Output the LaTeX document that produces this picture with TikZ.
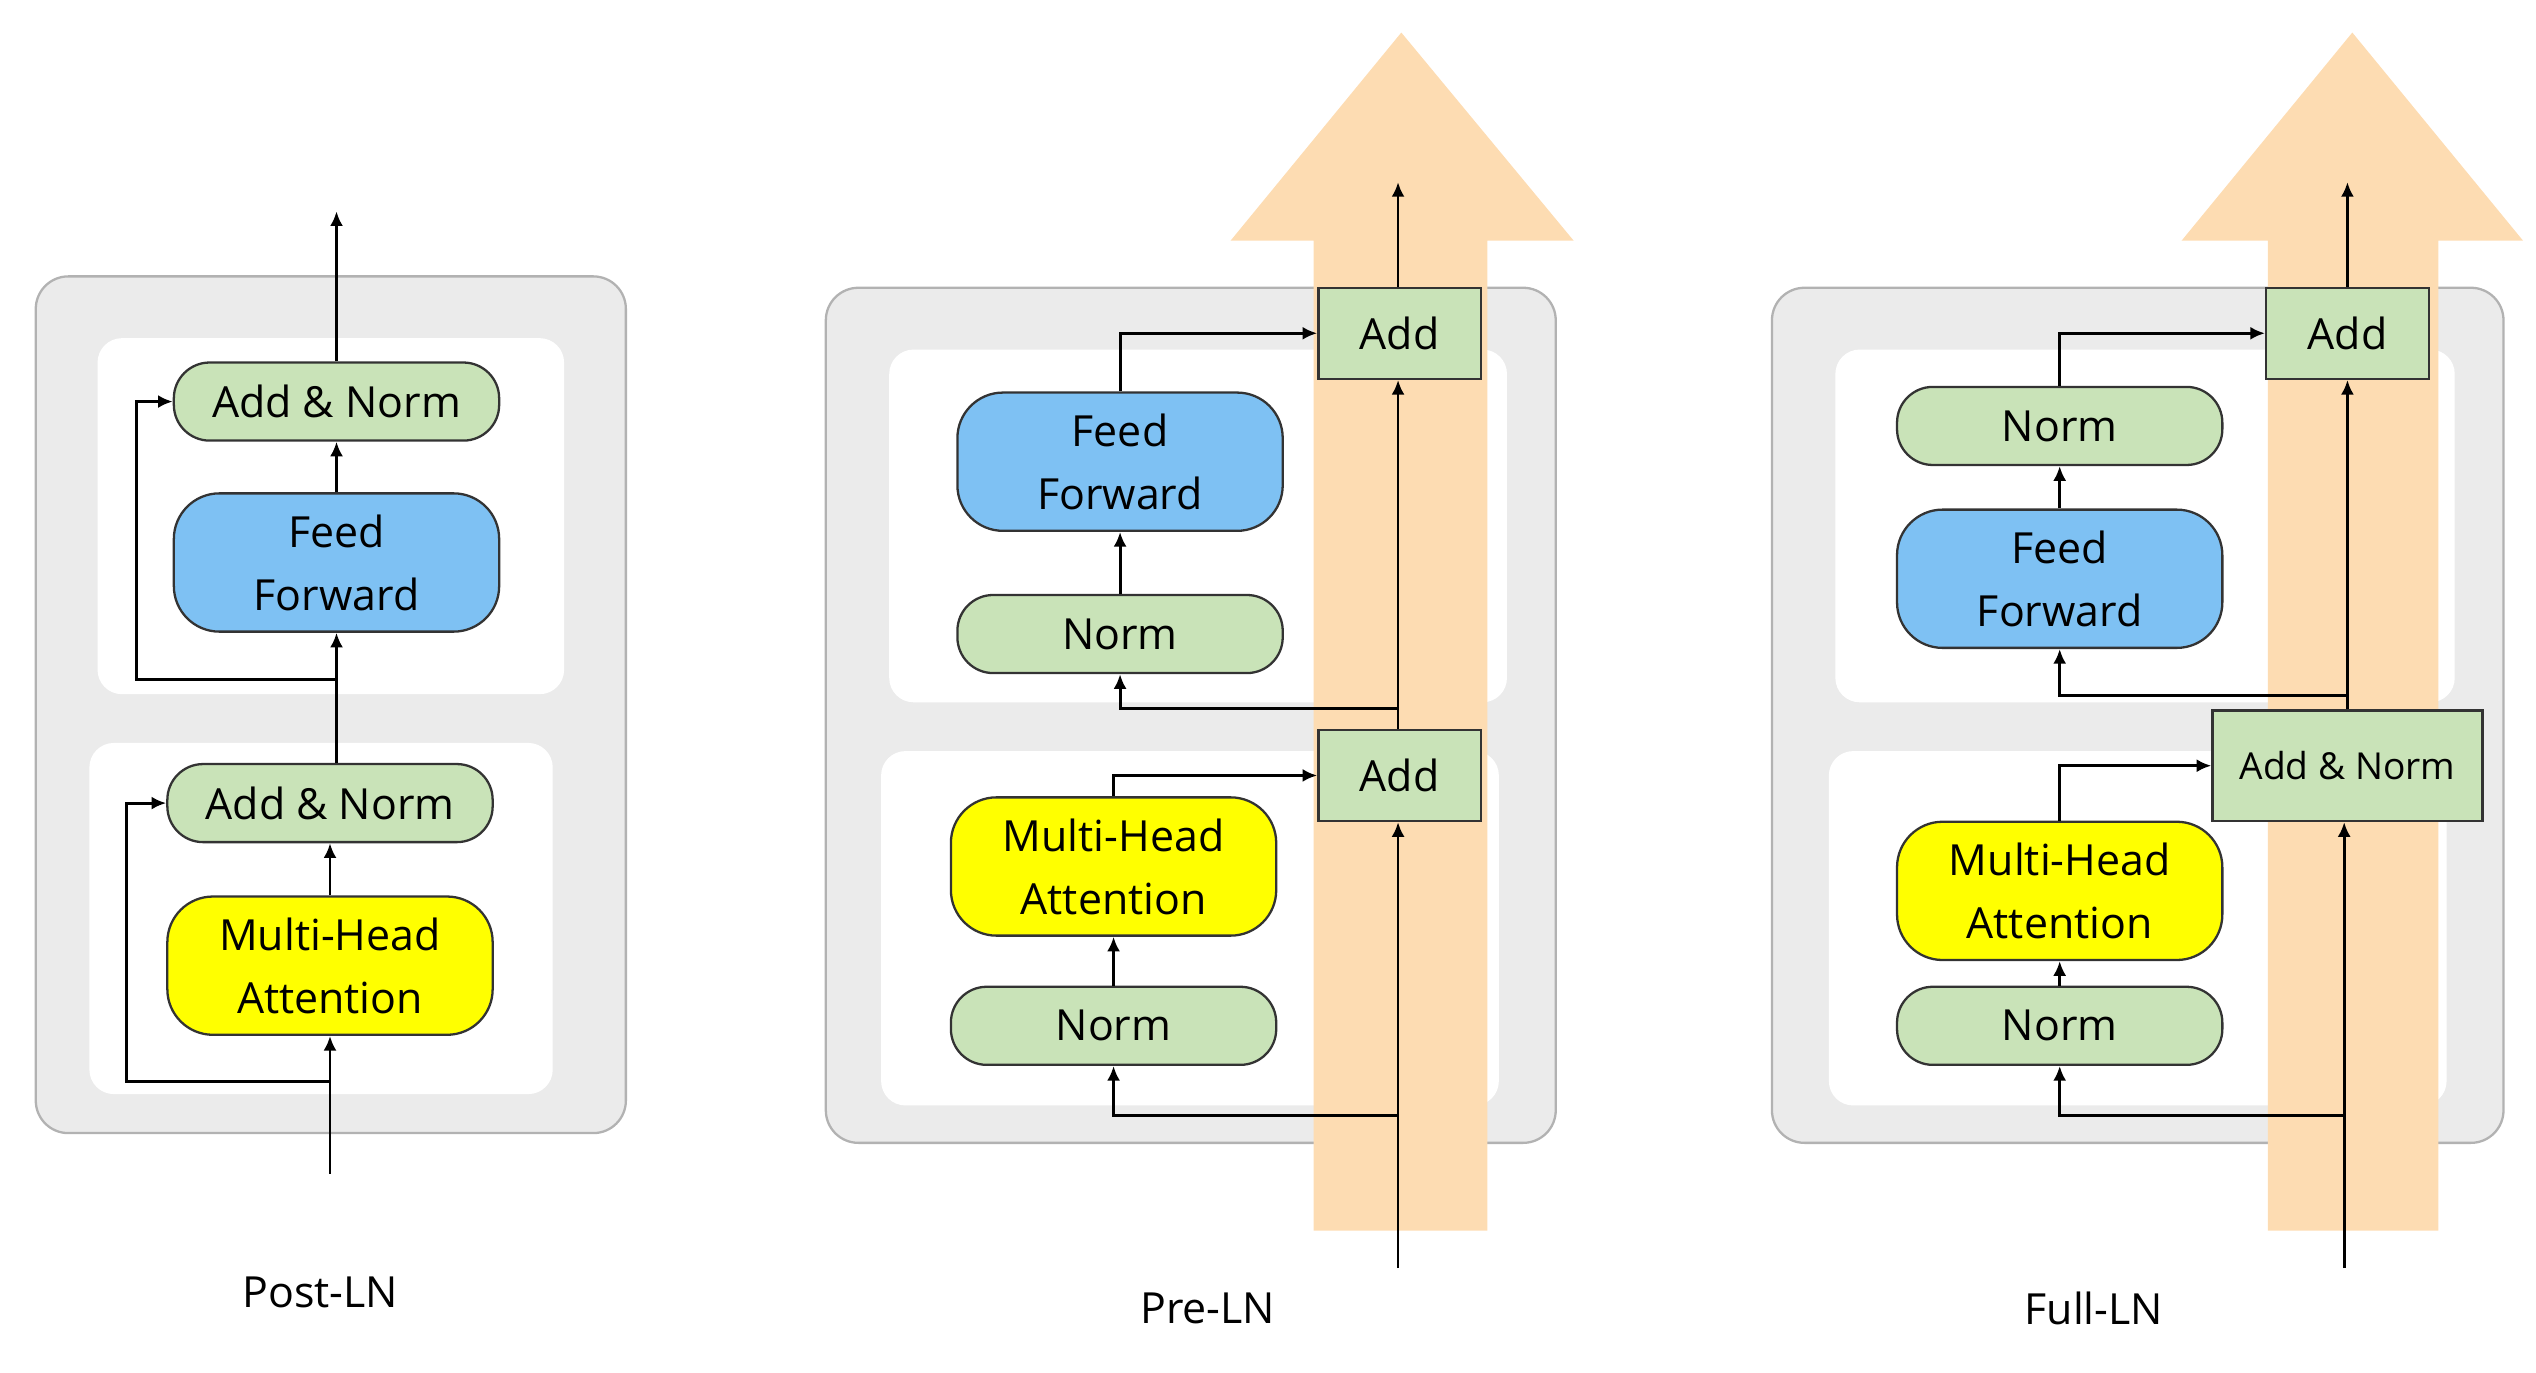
\documentclass[tikz,border=0pt]{standalone}
\usepackage{fontspec}
\setmainfont{Open Sans}
\usetikzlibrary{arrows.meta,positioning,calc}
\definecolor{lngreen}{HTML}{C9E3B8}
\definecolor{lnblue}{HTML}{7EC1F3}
\definecolor{lnyellow}{HTML}{FFFF00}
\definecolor{lngray}{HTML}{EBEBEB}
\definecolor{lnorange}{HTML}{FDDCB2}
\tikzset{
  pill/.style={draw=black!80,rounded corners=0.22cm,minimum width=2cm,minimum height=0.48cm,inner sep=0pt,font=\fontsize{7.5}{9}\selectfont,align=center},
  blk/.style={pill,minimum height=0.85cm,rounded corners=0.28cm},
  addbox/.style={draw=black!80,fill=lngreen,minimum width=1cm,minimum height=0.56cm,inner sep=0pt,font=\fontsize{7.5}{9}\selectfont},
  outer/.style={draw=black!30,fill=lngray,rounded corners=0.2cm},
  inner/.style={fill=white,rounded corners=0.15cm},
  arr/.style={-{Latex[length=0.9mm,width=0.8mm]},line width=0.5pt},
  big/.style={fill=lnorange},
  lbl/.style={font=\fontsize{7.5}{9}\selectfont}
}
\begin{document}
\begin{tikzpicture}[x=0.01cm,y=-0.01cm]
\useasboundingbox (0,0) rectangle (1560,844);
% backgrounds
\draw[outer] (22,170) rectangle (385,697);
\fill[inner] (60,208) rectangle (347,427);
\fill[inner] (55,457) rectangle (340,673);
\draw[outer] (508,177) rectangle (957,703);
\fill[inner] (547,215) rectangle (927,432);
\fill[inner] (542,462) rectangle (922,680);
\draw[outer] (1090,177) rectangle (1540,703);
\fill[inner] (1129,215) rectangle (1510,432);
\fill[inner] (1125,462) rectangle (1505,680);
% wide arrows
\fill[big] (808,757) -- (808,148) -- (757,148) -- (862,20) -- (968,148) -- (915,148) -- (915,757) -- cycle;
\fill[big] (1395,757) -- (1395,148) -- (1342,148) -- (1447,20) -- (1552,148) -- (1500,148) -- (1500,757) -- cycle;

% Post-LN
\node[pill,fill=lngreen] (an2) at (207,247) {Add \& Norm};
\node[blk,fill=lnblue] (ff) at (207,346) {Feed\\[2pt]Forward};
\node[pill,fill=lngreen] (an1) at (203,494) {Add \& Norm};
\node[blk,fill=lnyellow] (mha) at (203,594) {Multi-Head\\[2pt]Attention};
\coordinate (in) at (203,722);
\coordinate (out) at (207,130);
\draw[arr] (in) -- (mha);
\draw[arr] (in |- 0,665) -- (78,665) |- (an1.west);
\draw[arr] (mha) -- (an1);
\draw[arr] (an1.north -| ff) -- (ff);
\draw[arr] (207,418) -- (84,418) |- (an2.west);
\draw[arr] (ff) -- (an2);
\draw[arr] (an2) -- (out);
\node[lbl] (lpost) at (197,795) {Post-LN};

% Pre-LN
\node[addbox] (padd2) at (861,205) {Add};
\node[blk,fill=lnblue] (pff) at (689,284) {Feed\\[2pt]Forward};
\node[pill,fill=lngreen] (pnorm2) at (689,390) {Norm};
\node[addbox] (padd1) at (861,477) {Add};
\node[blk,fill=lnyellow] (pmha) at (685,533) {Multi-Head\\[2pt]Attention};
\node[pill,fill=lngreen] (pnorm1) at (685,631) {Norm};
\coordinate (pin) at (860,780);
\coordinate (pout) at (860,112);
\draw[arr] (pin) -- (pin |- padd1.south);
\draw[arr] (860,686) -| (pnorm1);
\draw[arr] (pnorm1) -- (pmha);
\draw[arr] (pmha.north) |- (padd1.west);
\draw[arr] (padd1.north -| pin) -- (pin |- padd2.south);
\draw[arr] (860,436) -| (pnorm2);
\draw[arr] (pnorm2) -- (pff);
\draw[arr] (pff.north) |- (padd2.west);
\draw[arr] (padd2.north -| pout) -- (pout);
\node[lbl] (lpre) at (743,805) {Pre-LN};

% Full-LN
\node[addbox] (fadd) at (1444,205) {Add};
\node[pill,fill=lngreen] (fnorm2) at (1267,262) {Norm};
\node[blk,fill=lnblue] (fff) at (1267,356) {Feed\\[2pt]Forward};
\node[addbox,minimum width=1.66cm,minimum height=0.68cm,font=\fontsize{6.5}{8}\selectfont] (fan) at (1444,471) {Add \& Norm};
\node[blk,fill=lnyellow] (fmha) at (1267,548) {Multi-Head\\[2pt]Attention};
\node[pill,fill=lngreen] (fnorm1) at (1267,631) {Norm};
\coordinate (fin) at (1442,780);
\coordinate (fout) at (1444,112);
\draw[arr] (fin) -- (fin |- fan.south);
\draw[arr] (1442,686) -| (fnorm1);
\draw[arr] (fnorm1) -- (fmha);
\draw[arr] (fmha.north) |- (fan.west);
\draw[arr] (fan.north -| fout) -- (fout |- fadd.south);
\draw[arr] (1444,428) -| (fff);
\draw[arr] (fff) -- (fnorm2);
\draw[arr] (fnorm2.north) |- (fadd.west);
\draw[arr] (fadd) -- (fout);
\node[lbl] (lfull) at (1288,805) {Full-LN};
\end{tikzpicture}
\end{document}
